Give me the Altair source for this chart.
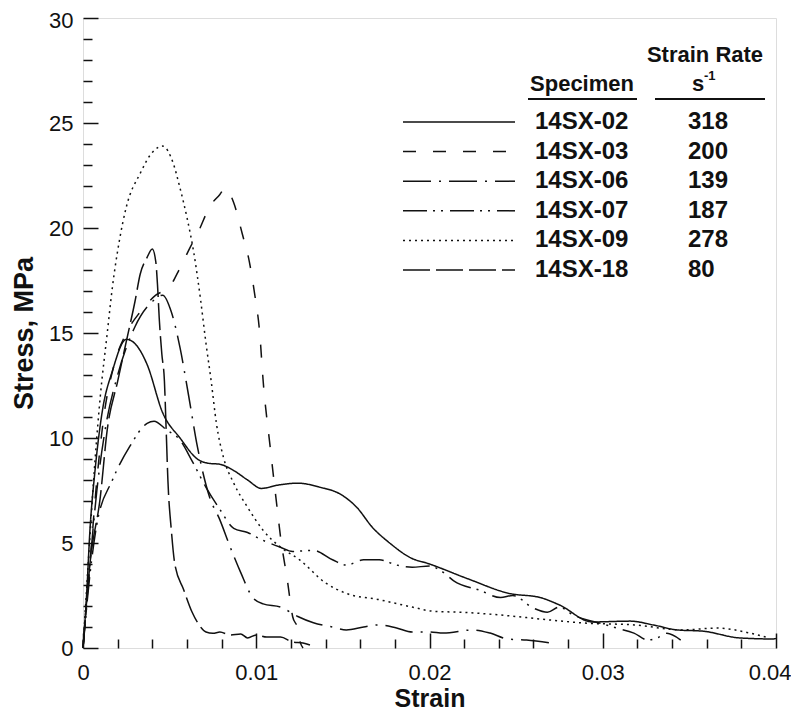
import altair as alt
import pandas as pd

FONT = "Liberation Sans"
INK = "#111111"

specimens = ["14SX-02", "14SX-03", "14SX-06", "14SX-07", "14SX-09", "14SX-18"]
rates = ["318", "200", "139", "187", "278", "80"]
dashes = [[1, 0], [13, 17], [28, 8, 2, 8], [24, 6, 2, 6, 2, 7], [2, 4], [27, 6]]

s02_strain = [0, 0.0002, 0.0004, 0.0007, 0.0011, 0.0017, 0.0025, 0.0031, 0.0037, 0.0046, 0.0056, 0.0066,
              0.0072, 0.0079, 0.0087, 0.0095, 0.0103, 0.0112, 0.0124, 0.0137, 0.0148, 0.0158, 0.0167, 0.0177,
              0.0189, 0.0200, 0.0222, 0.0246, 0.0264, 0.0275, 0.0294, 0.0316, 0.0329, 0.0343, 0.0358, 0.0379,
              0.0398, 0.0400]
s02_stress = [0, 2.4, 5.6, 8.5, 11.2, 13.2, 14.7, 14.4, 13.5, 11.2, 10.0, 9.0,
              8.8, 8.75, 8.45, 8.0, 7.6, 7.75, 7.85, 7.65, 7.35, 6.7, 5.75, 5.0,
              4.3, 4.0, 3.3, 2.6, 2.4, 2.05, 1.24, 1.28, 1.1, 0.86, 0.8, 0.48,
              0.43, 0.45]

s03_strain = [0, 0.0004, 0.0008, 0.0012, 0.0018, 0.0025, 0.0033, 0.0042, 0.0050, 0.0056, 0.0062, 0.0067,
              0.0073, 0.0079, 0.0082, 0.0087, 0.0092, 0.0096, 0.0099, 0.0102, 0.0104, 0.0108, 0.0112, 0.0114,
              0.0118, 0.0121, 0.0124, 0.0125, 0.0127]
s03_stress = [0, 4, 8, 11, 13.5, 15, 16, 16.8, 17.2, 18.1, 19.1, 19.9,
              21.0, 21.6, 21.9, 21.2, 19.7, 18.4, 16.9, 15.0, 12.7, 9.6, 6.7, 5.3,
              3.2, 1.5, 0.9, 0.4, 0]

s06_strain = [0, 0.0004, 0.0008, 0.0013, 0.0020, 0.0030, 0.0040, 0.0046, 0.0051, 0.0056, 0.0061, 0.0066,
              0.0073, 0.0079, 0.0085, 0.0091, 0.0098, 0.0104, 0.0114, 0.0124, 0.0133, 0.0144, 0.0152, 0.0162,
              0.0171, 0.0181, 0.0190, 0.0200, 0.0208, 0.0225, 0.0235, 0.0245, 0.0256, 0.0270]
s06_stress = [0, 4, 7.5, 10.5, 13, 15.3, 16.5, 16.8, 16.0, 14.3, 12.0, 9.6,
              7.2, 6.1, 4.8, 3.6, 2.4, 2.1, 1.95, 1.5, 1.2, 1.0, 0.86, 1.0,
              1.1, 0.95, 0.76, 0.76, 0.71, 0.86, 0.71, 0.43, 0.38, 0.24]

s07_strain = [0, 0.0004, 0.0008, 0.0017, 0.0027, 0.0037, 0.0041, 0.0048, 0.0056, 0.0063, 0.0071, 0.0079,
              0.0087, 0.0095, 0.0102, 0.0114, 0.0121, 0.0133, 0.0144, 0.0152, 0.0162, 0.0171, 0.0181, 0.0190,
              0.0200, 0.0208, 0.0214, 0.0229, 0.0241, 0.0248, 0.0260, 0.0268, 0.0275, 0.0283, 0.0291, 0.0298,
              0.0308, 0.0318, 0.0326, 0.0332, 0.0337, 0.0345]
s07_stress = [0, 3.5, 5.9, 8.0, 9.6, 10.7, 10.8, 10.4, 9.9, 8.9, 7.65, 6.6,
              5.7, 5.5, 5.2, 4.8, 4.6, 4.65, 4.2, 3.95, 4.2, 4.2, 3.95, 3.85,
              3.9, 3.6, 3.2, 2.75, 2.4, 2.5, 1.9, 1.7, 1.95, 1.57, 1.33, 1.19,
              0.95, 0.71, 0.38, 0.5, 0.7, 0.38]

s09_strain = [0, 0.0003, 0.0007, 0.0010, 0.0014, 0.0017, 0.0021, 0.0025, 0.0033, 0.0040, 0.0046, 0.0052,
              0.0056, 0.0060, 0.0064, 0.0068, 0.0071, 0.0074, 0.0077, 0.0081, 0.0087, 0.0095, 0.0104, 0.0114,
              0.0125, 0.0140, 0.0152, 0.0171, 0.0190, 0.0202, 0.0219, 0.0241, 0.0270, 0.0289, 0.0318, 0.0346,
              0.0366, 0.0385, 0.0396]
s09_stress = [0, 4, 9, 12, 15, 17.2, 19.4, 21.0, 22.6, 23.6, 23.9, 23.1,
              21.9, 20.5, 18.8, 16.5, 14.5, 12.7, 10.7, 9.1, 7.85, 6.7, 5.6, 4.8,
              4.2, 3.1, 2.6, 2.3, 1.95, 1.75, 1.7, 1.57, 1.33, 1.19, 1.1, 0.86,
              0.95, 0.71, 0.48]

s18_strain = [0, 0.0004, 0.0010, 0.0014, 0.0020, 0.0025, 0.0030, 0.0033, 0.0037, 0.0040, 0.0042, 0.0043,
              0.0044, 0.00455, 0.0047, 0.0048, 0.0049, 0.0051, 0.0053, 0.0058, 0.0063, 0.0067, 0.0071, 0.0075,
              0.0079, 0.0085, 0.0091, 0.0095, 0.0100, 0.0106, 0.0114, 0.0121, 0.0127, 0.0131]
s18_stress = [0, 4, 7.2, 10.4, 12.7, 14.6, 16.5, 17.8, 18.6, 19.0, 18.4, 17.3,
              15.7, 14.0, 12.7, 10.4, 8.0, 5.6, 4.0, 2.8, 1.7, 1.1, 0.76, 0.7,
              0.76, 0.62, 0.67, 0.48, 0.62, 0.52, 0.52, 0.29, 0.24, 0.14]

x_major_ticks = [0, 0.01, 0.02, 0.03, 0.04]
x_minor_ticks = [0.002, 0.004, 0.006, 0.008, 0.012, 0.014, 0.016, 0.018, 0.022, 0.024, 0.026, 0.028,
                 0.032, 0.034, 0.036, 0.038]
y_major_ticks = [0, 5, 10, 15, 20, 25, 30]
y_minor_ticks = [1, 2, 3, 4, 6, 7, 8, 9, 11, 12, 13, 14, 16, 17, 18, 19, 21, 22, 23, 24, 26, 27, 28, 29]

strains = [s02_strain, s03_strain, s06_strain, s07_strain, s09_strain, s18_strain]
stresses = [s02_stress, s03_stress, s06_stress, s07_stress, s09_stress, s18_stress]

rows = []
for name, xs, ys in zip(specimens, strains, stresses):
    for i, (a, b) in enumerate(zip(xs, ys)):
        rows.append({"specimen": name, "strain": a, "stress": b, "idx": i})
df = pd.DataFrame(rows)
leg = pd.DataFrame({"specimen": specimens, "rate": rates})
one = pd.DataFrame({"k": [0]})

xscale = alt.Scale(domain=[0, 0.04], nice=False, zero=False)
yscale = alt.Scale(domain=[0, 30], nice=False)
dash_scale = alt.Scale(domain=specimens, range=dashes)

last_x = "datum.value >= 0.039"
top_y = "datum.value >= 29"
x_major = alt.Axis(values=x_major_ticks, format=".2~f", orient="bottom", offset=-15, tickSize=15,
                   tickWidth=1.5, tickColor=INK, domain=False, grid=False, labelFontSize=22,
                   labelFont=FONT, labelColor=INK, labelPadding=14, labelFlush=False,
                   labelAlign={"condition": {"test": last_x, "value": "right"}, "value": "center"},
                   labelOffset={"condition": {"test": last_x, "value": 15}, "value": 0},
                   title="Strain", titleFontSize=25, titleFont=FONT, titleFontWeight="bold",
                   titleColor=INK, titlePadding=3)
y_major = alt.Axis(values=y_major_ticks, orient="left", offset=-15, tickSize=15, tickWidth=1.5,
                   tickColor=INK, domain=False, grid=False, labelFontSize=22, labelFont=FONT,
                   labelColor=INK, labelPadding=10, labelFlush=False,
                   labelOffset={"condition": {"test": top_y, "value": 2}, "value": 0},
                   title="Stress, MPa", titleFontSize=27, titleFont=FONT, titleFontWeight="bold",
                   titleColor=INK, titlePadding=10)
x_minor = alt.Axis(values=x_minor_ticks, orient="bottom", offset=-9, tickSize=9, tickWidth=1.5,
                   tickColor=INK, domain=False, grid=False, labels=False, title=None)
y_minor = alt.Axis(values=y_minor_ticks, orient="left", offset=-9, tickSize=9, tickWidth=1.5,
                   tickColor=INK, domain=False, grid=False, labels=False, title=None)

lines = alt.Chart(df).mark_line(strokeWidth=1.5, color=INK, interpolate="monotone").encode(
    x=alt.X("strain:Q", scale=xscale, axis=x_major),
    y=alt.Y("stress:Q", scale=yscale, axis=y_major),
    strokeDash=alt.StrokeDash("specimen:N", scale=dash_scale, legend=None),
    order="idx:Q",
)

minor = alt.Chart(df).mark_line(opacity=0).encode(
    x=alt.X("strain:Q", scale=xscale, axis=x_minor),
    y=alt.Y("stress:Q", scale=yscale, axis=y_minor),
    detail="specimen:N",
)

row_y = alt.Y("specimen:N", scale=alt.Scale(type="point", domain=specimens, range=[104, 252], padding=0),
              axis=None)

leg_lines = alt.Chart(leg).mark_rule(strokeWidth=1.5, color=INK).encode(
    x=alt.value(320), x2=alt.value(432), y=row_y,
    strokeDash=alt.StrokeDash("specimen:N", scale=dash_scale, legend=None),
)
leg_names = alt.Chart(leg).mark_text(align="left", baseline="middle", font=FONT, fontSize=24,
                                     fontWeight="bold", color=INK).encode(
    x=alt.value(452), y=row_y, text="specimen:N")
leg_rates = alt.Chart(leg).mark_text(align="left", baseline="middle", font=FONT, fontSize=24,
                                     fontWeight="bold", color=INK).encode(
    x=alt.value(605), y=row_y, text="rate:N")

def header(txt, x, y, size=22, align="center"):
    return alt.Chart(one).mark_text(text=txt, align=align, baseline="alphabetic", font=FONT,
                                    fontSize=size, fontWeight="bold", color=INK).encode(
        x=alt.value(x), y=alt.value(y))

h_rate = header("Strain Rate", 622, 44)
h_spec = header("Specimen", 499, 73)
h_s = header("s", 615, 73)
h_sup = header("-1", 621, 62, size=13, align="left")

u1 = alt.Chart(one).mark_rule(strokeWidth=2, color=INK).encode(
    x=alt.value(445), x2=alt.value(554), y=alt.value(81))
u2 = alt.Chart(one).mark_rule(strokeWidth=2, color=INK).encode(
    x=alt.value(572), x2=alt.value(682), y=alt.value(81))

chart = alt.layer(
    lines, minor, leg_lines, leg_names, leg_rates, h_rate, h_spec, h_s, h_sup, u1, u2
).resolve_scale(y="independent").resolve_axis(x="independent", y="independent").properties(
    width=693, height=630,
    autosize=alt.AutoSizeParams(type="none"),
    padding={"left": 75, "top": 10, "right": 15, "bottom": 64},
).configure_view(stroke=INK, strokeWidth=1.6).configure(background="white")

chart.save("out.html", embed_options={"renderer": "svg", "actions": False})
